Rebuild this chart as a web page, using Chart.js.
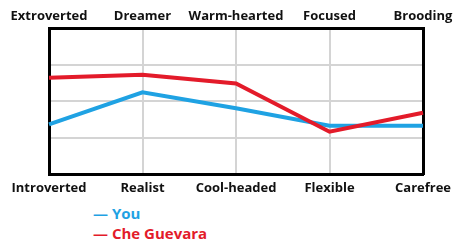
<!DOCTYPE html>
<html>
<head>
<meta charset="utf-8">
<script src="https://cdn.jsdelivr.net/npm/chart.js@4"></script>
<style>
  html, body { margin: 0; padding: 0; background: #fff; }
  #wrap { position: relative; width: 474px; height: 247px; }
  #box { position: absolute; left: 0; top: 0; width: 474px; height: 200px; }
  .leg { position: absolute; left: 93px; font: bold 15px "Open Sans", sans-serif; line-height: 18px; }
</style>
</head>
<body>
<div id="wrap">
  <div id="box"><canvas id="myChart"></canvas></div>
  <div class="leg" style="top:204px; color:#1fa2e3">— You</div>
  <div class="leg" style="top:224px; color:#e31b2a">— Che Guevara</div>
</div>
<script>
// labels boven en onder
const topLabels = ["Extroverted", "Dreamer", "Warm-hearted", "Focused", "Brooding"];
const bottomLabels = ["Introverted", "Realist", "Cool-headed", "Flexible", "Carefree"];

// waarden (0 = onderste label, 100 = bovenste label)
const youValues = [34, 56, 45, 33, 33];
const cheValues = [66, 68, 62, 29, 42];

const yTicks = [0, 25, 50, 75, 100];

const font = { family: "'Open Sans', sans-serif", size: 13, weight: "bold" };

const ctx = document.getElementById('myChart').getContext('2d');
const myChart = new Chart(ctx, {
    type: 'line',
    data: {
        labels: bottomLabels,
        datasets: [{
            label: 'Che Guevara',
            data: cheValues,
            borderColor: '#e31b2a',
            borderWidth: 4,
            pointRadius: 0,
            tension: 0,
            xAxisID: 'x',
            order: 0
        }, {
            label: 'You',
            data: youValues,
            borderColor: '#1fa2e3',
            borderWidth: 4,
            pointRadius: 0,
            tension: 0,
            xAxisID: 'x',
            order: 1
        }]
    },
    options: {
        responsive: true,
        maintainAspectRatio: false,
        animation: false,
        layout: { padding: { left: 49, right: 51, top: 0, bottom: 0 } },
        plugins: { legend: { display: false }, tooltip: { enabled: false } },
        scales: {
            x: {
                type: 'category',
                position: 'bottom',
                offset: false,
                grid: { color: '#d4d4d4', lineWidth: 2, drawTicks: false },
                border: { color: '#000', width: 3 },
                ticks: { color: '#111', font: font, padding: 6, maxRotation: 0, autoSkip: false },
                afterFit: (s) => { s.height = 26; }
            },
            x2: {
                type: 'category',
                position: 'top',
                labels: topLabels,
                offset: false,
                grid: { display: false, drawTicks: false },
                border: { color: '#000', width: 3 },
                ticks: { color: '#111', font: font, padding: 4, maxRotation: 0, autoSkip: false },
                afterFit: (s) => { s.height = 28; }
            },
            y: {
                min: 0,
                max: 100,
                afterBuildTicks: (s) => { s.ticks = yTicks.map(v => ({ value: v })); },
                grid: { color: '#d4d4d4', lineWidth: 2, drawTicks: false },
                border: { color: '#000', width: 3 },
                ticks: { display: false },
                afterFit: (s) => { s.width = 0; }
            },
            y2: {
                position: 'right',
                min: 0,
                max: 100,
                grid: { display: false, drawTicks: false },
                border: { color: '#000', width: 3 },
                ticks: { display: false },
                afterFit: (s) => { s.width = 0; }
            }
        }
    }
});
</script>
</body>
</html>
